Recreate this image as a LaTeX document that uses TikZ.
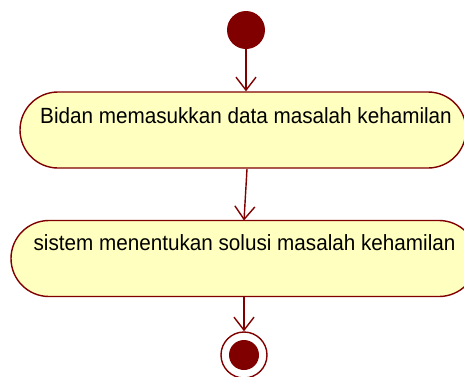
\documentclass[tikz,border=0pt]{standalone}
\usepackage{fontspec}
\setmainfont{Liberation Sans}[FakeStretch=0.94]
\usetikzlibrary{arrows.meta}
\definecolor{umlred}{HTML}{800000}
\definecolor{umlfill}{HTML}{FFFFC0}
\begin{document}
\begin{tikzpicture}[x=1pt,y=-1pt,
  act/.style={draw=umlred,fill=umlfill,line width=1.4pt,rounded corners=38pt,minimum height=76pt,inner sep=0pt},
  lbl/.style={font=\fontsize{22}{26}\selectfont,text=black,anchor=center,inner sep=0pt},
  flow/.style={draw=umlred,line width=1.4pt,-{Straight Barb[length=13pt,width=20pt,line width=1.4pt]}}]
\useasboundingbox (0,0) rectangle (464,376);
\node[circle,fill=umlred,minimum size=38pt,inner sep=0pt] (start) at (246,30) {};
\node[act,minimum width=446pt] (b1) at (243,130) {};
\node[lbl] (t1) at (246,116) {Bidan memasukkan data masalah kehamilan};
\node[act,minimum width=466pt] (b2) at (244,258.5) {};
\node[lbl] (t2) at (244.5,243) {sistem menentukan solusi masalah kehamilan};
\node[circle,draw=umlred,fill=white,line width=1.4pt,minimum size=46pt,inner sep=0pt] (end) at (244,355) {};
\node[circle,fill=umlred,minimum size=30pt,inner sep=0pt] (endin) at (end.center) {};
\draw[flow] (start.south) -- (b1.north -| start.south);
\coordinate (c1) at (247,169);
\coordinate (c2) at (244,220.5);
\draw[flow] (c1) -- (c2);
\draw[flow] (b2.south) -- (end.north);
\end{tikzpicture}
\end{document}
